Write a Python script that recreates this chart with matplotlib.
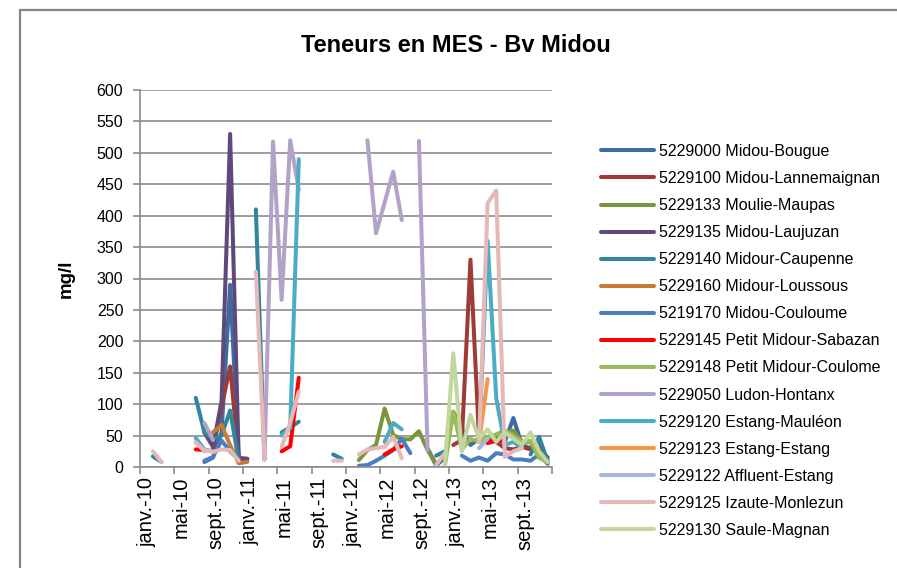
import numpy as np
import matplotlib.pyplot as plt
from matplotlib.patches import Rectangle

plt.rcParams['font.family'] = ['Liberation Sans', 'DejaVu Sans']

# valeurs MES (mg/l) par mois, 0 = janv.-10 ... 47 = déc.-13
bougue = {7: 8, 8: 15, 9: 55, 10: 290, 11: 12, 12: 12,
          33: 30, 34: 2, 35: 15, 36: 88, 37: 60, 38: 35, 39: 45, 40: 40,
          41: 45, 42: 40, 43: 78, 44: 35, 45: 30, 46: 40, 47: 10}
lannemaignan = {8: 28, 9: 95, 10: 160, 11: 14, 12: 13,
                36: 35, 37: 43, 38: 330, 39: 45, 40: 45, 41: 40, 42: 30,
                43: 28, 44: 32, 45: 28, 46: 30, 47: 15}
maupas = {25: 11, 26: 27, 27: 35, 28: 93, 29: 51, 30: 44, 31: 44, 32: 57,
          33: 27, 34: 5, 39: 45, 40: 48, 41: 50, 42: 55, 43: 58, 44: 40,
          45: 40, 46: 15, 47: 8}
laujuzan = {7: 55, 8: 32, 9: 105, 10: 530, 11: 14, 12: 13}
caupenne = {1: 17, 2: 8, 6: 110, 7: 55, 8: 45, 9: 50, 10: 90, 11: 10,
            13: 410, 14: 12, 16: 55, 17: 63, 18: 72, 22: 20, 23: 13,
            34: 18, 35: 25, 45: 20, 46: 48, 47: 8}
loussous = {8: 55, 9: 67, 10: 35, 11: 6, 12: 8}
couloume = {7: 10, 8: 16, 9: 42, 10: 25, 11: 12,
            25: 2, 26: 3, 27: 10, 28: 18, 29: 27, 30: 45, 31: 22,
            37: 18, 38: 10, 39: 15, 40: 10, 41: 22, 42: 20, 43: 12, 44: 12,
            45: 10, 46: 20, 47: 5}
sabazan = {6: 28, 7: 27, 16: 25, 17: 33, 18: 142, 28: 20, 29: 28, 30: 33,
           40: 38, 41: 42, 42: 42}
coulome = {35: 0, 36: 88, 37: 28, 38: 45, 39: 40, 40: 48, 41: 52, 42: 58,
           43: 50, 44: 40, 45: 42, 46: 15, 47: 8}
hontanx = {7: 70, 8: 43, 14: 12, 15: 518, 16: 266, 17: 520, 18: 441,
           26: 520, 27: 372, 28: 421, 29: 470, 30: 393, 32: 519, 33: 27}
mauleon = {6: 46, 7: 28, 8: 25, 16: 50, 17: 62, 18: 490, 28: 40, 29: 70,
           30: 60, 39: 40, 40: 360, 41: 110, 42: 35, 43: 40, 44: 30}
estang = {39: 40, 40: 140}
affluent = {6: 40, 7: 25, 39: 30, 40: 45}
monlezun = {1: 25, 2: 8, 6: 38, 7: 27, 8: 24, 9: 28, 10: 27, 11: 10,
            13: 311, 14: 12, 16: 32, 17: 70, 18: 120, 22: 10, 23: 10,
            25: 20, 26: 28, 27: 30, 28: 32, 29: 48, 30: 14, 34: 3, 35: 22,
            39: 40, 40: 420, 41: 440, 42: 16, 43: 25, 44: 30}
magnan = {35: 0, 36: 181, 37: 25, 38: 83, 39: 45, 40: 60, 41: 40, 42: 55,
          43: 45, 44: 35, 45: 55, 46: 25, 47: 8}

stations = ['5229000 Midou-Bougue', '5229100 Midou-Lannemaignan',
            '5229133 Moulie-Maupas', '5229135 Midou-Laujuzan',
            '5229140 Midour-Caupenne', '5229160 Midour-Loussous',
            '5219170 Midou-Couloume', '5229145 Petit Midour-Sabazan',
            '5229148 Petit Midour-Coulome', '5229050 Ludon-Hontanx',
            '5229120 Estang-Mauléon', '5229123 Estang-Estang',
            '5229122 Affluent-Estang', '5229125 Izaute-Monlezun',
            '5229130 Saule-Magnan']
series = [bougue, lannemaignan, maupas, laujuzan, caupenne, loussous,
          couloume, sabazan, coulome, hontanx, mauleon, estang, affluent,
          monlezun, magnan]
colors = ['#3F6AA3', '#9E3B38', '#7A963C', '#5F497A', '#31859C', '#C87A35',
          '#4A7EC0', '#FF0000', '#9BBB59', '#B3A2C7', '#4BACC6', '#F79646',
          '#A5B7D9', '#E6B9B8', '#C3D69B']
tick_labels = ['janv.-10', 'mai-10', 'sept.-10', 'janv.-11', 'mai-11',
               'sept.-11', 'janv.-12', 'mai-12', 'sept.-12', 'janv.-13',
               'mai-13', 'sept.-13']

n_months = 48
x = np.arange(n_months) + 0.5

fig = plt.figure(figsize=(8.97, 5.68), dpi=100)
ax = fig.add_axes([140/897, 1 - 467/568, 412/897, 377/568])

for name, data, c in zip(stations, series, colors):
    y = np.full(n_months, np.nan)
    for m, v in data.items():
        y[m] = v
    ax.plot(x, y, color=c, lw=2.9, label=name, solid_capstyle='round',
            solid_joinstyle='round')

grid_c = '#8C8C8C'
ax.set_xlim(0, n_months)
ax.set_ylim(0, 600)
ax.set_yticks(np.arange(0, 601, 50))
ax.yaxis.grid(True, color=grid_c, lw=1.2)
ax.set_axisbelow(True)
ax.set_xticks(np.arange(0, n_months + 1, 4))
ax.set_xticklabels([])
ax.set_xticks(np.arange(0, n_months, 4) + 0.8, minor=True)
ax.set_xticklabels(tick_labels, minor=True, rotation=90, fontsize=14.5)
ax.tick_params(axis='x', which='minor', length=0, pad=7)
ax.tick_params(axis='x', which='major', length=5, color=grid_c, width=1.2)
ax.tick_params(axis='y', length=5, color=grid_c, width=1.2, labelsize=11.5,
               pad=7)
for s in ['top', 'right']:
    ax.spines[s].set_visible(False)
for s in ['left', 'bottom']:
    ax.spines[s].set_color(grid_c)
    ax.spines[s].set_linewidth(1.2)

ax.set_ylabel('mg/l', fontsize=13.5, fontweight='bold', labelpad=16)
fig.text(456/897, 1 - 45/568, 'Teneurs en MES - Bv Midou', ha='center',
         va='center', fontsize=17, fontweight='bold')

leg = fig.legend(loc='upper left', bbox_to_anchor=(601/897, 1 - 144/568),
                 frameon=False, fontsize=11.5, handlelength=3.3,
                 handletextpad=0.35, labelspacing=0.755, borderpad=0,
                 borderaxespad=0)

fig.patches.append(Rectangle((20/897, -0.1), 1.1, 1.1 - 10/568,
                             transform=fig.transFigure, fill=False,
                             edgecolor='#868686', lw=1.6))

fig.savefig('out.png', dpi=100)
